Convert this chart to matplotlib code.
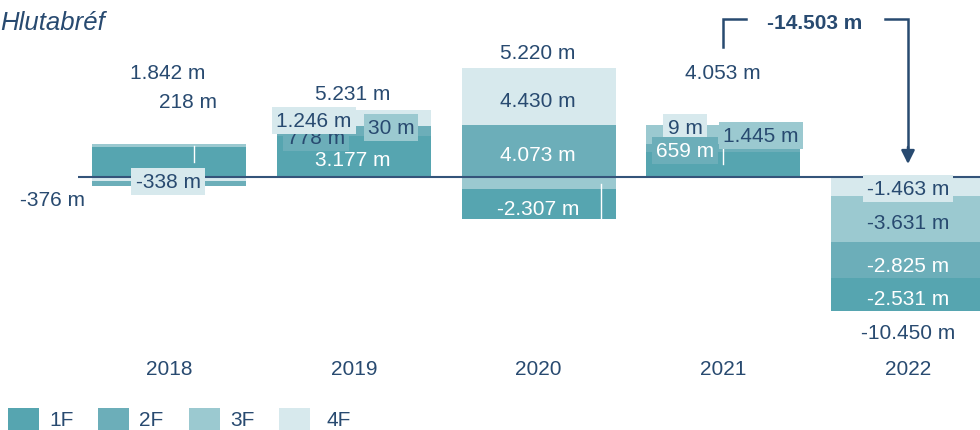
import matplotlib.pyplot as plt
from matplotlib.patches import Rectangle

plt.rcParams['font.family'] = ['Liberation Sans', 'DejaVu Sans']

# data (m. kr.)
years = ['2018', '2019', '2020', '2021', '2022']
quarters = ['1F', '2F', '3F', '4F']
q1 = [2338, 3177, -2307, 1940, -2531]
q2 = [-376, 778, 4073, 659, -2825]
q3 = [218, 30, -976, 1445, -3631]
q4 = [-338, 1246, 4430, 9, -1463]
series = [q1, q2, q3, q4]

colors = ['#56a5b0', '#6caeb9', '#9bc9d0', '#d7e9ed']
dark = '#284a70'
FS = 15

# pixel layout of the reference (980x431)
W, H = 980, 431
X0, STEP = 169, 184.75      # centre of first bar, bar spacing
Y0, UNIT = 178, 1000 / 12.8  # zero line, value per pixel
TY = 1.5                     # text nudge so digits sit centred


def px(x):
    return (x - X0) / STEP


def py(y):
    return (Y0 - y) * UNIT


def fmt(v):
    return f"{v:,}".replace(",", ".") + " m"


fig = plt.figure(figsize=(W / 100, H / 100), dpi=100)
ax = fig.add_axes([78 / W, 0, (W - 78) / W, 1])
ax.set_xlim(px(78), px(W))
ax.set_ylim(py(H), py(0))
ax.axis('off')

# stacked bars: positives build up from 1F, negatives build down from 4F
pos = [0] * len(years)
neg = [0] * len(years)
for qi, vals in enumerate(series):
    for i, v in enumerate(vals):
        if v >= 0:
            ax.bar(i, v, bottom=pos[i], width=154 / STEP, color=colors[qi], zorder=1)
            pos[i] += v
for qi in reversed(range(len(series))):
    for i, v in enumerate(series[qi]):
        if v < 0:
            ax.bar(i, v, bottom=neg[i], width=154 / STEP, color=colors[qi], zorder=1)
            neg[i] += v

ax.axhline(0, color='#34547a', lw=1.5, zorder=2)

# label connectors (white ticks inside bars)
for x, y1, y2 in [(194, 147, 163), (601, 185, 220), (723, 150, 165)]:
    ax.plot([px(x), px(x)], [py(y1), py(y2)], color='white', lw=1, zorder=2)

# quarter labels: (year, quarter, x px, y px, boxed, white text)
placements = [
    (0, 1, 52, 199, False, False),
    (0, 2, 188, 101, False, False),
    (0, 3, 168, 181, True, False),
    (1, 0, 353, 159, False, True),
    (1, 1, 316, 137, True, False),
    (1, 3, 314, 120, True, False),
    (1, 2, 391, 127, True, False),
    (2, 0, 538, 208, False, True),
    (2, 1, 538, 154, False, True),
    (2, 3, 538, 100, False, False),
    (3, 3, 685, 127, True, False),
    (3, 1, 685, 150, True, True),
    (3, 2, 761, 135, True, False),
    (4, 0, 908, 298, False, True),
    (4, 1, 908, 265, False, True),
    (4, 2, 908, 222, False, False),
    (4, 3, 908, 188, True, False),
]
for z, (i, qi, x, y, boxed, white) in enumerate(placements):
    bbox = None
    if boxed:
        bbox = dict(boxstyle='square,pad=0.2', fc=colors[qi], ec='none')
    ax.text(px(x), py(y + TY), fmt(series[qi][i]), ha='center', va='center',
            fontsize=FS, color='white' if white else dark, bbox=bbox, zorder=3 + z)

# totals
totals = [sum(s[i] for s in series) for i in range(len(years))]
total_y = [72, 93, 52, 72, 332]
total_x = [168, 353, 538, 723, 908]
for i, t in enumerate(totals):
    ax.text(px(total_x[i]), py(total_y[i] + TY), fmt(t), ha='center', va='center',
            fontsize=FS, color=dark)

# year labels
for i, yr in enumerate(years):
    ax.text(i, py(368 + TY), yr, ha='center', va='center', fontsize=FS, color=dark)

# change 2021 -> 2022
change = totals[4] - totals[3]
ax.plot([3, 3, px(746)], [py(48), py(20), py(20)], color=dark, lw=1.8,
        solid_joinstyle='miter', clip_on=False)
ax.plot([px(885), 4, 4], [py(20), py(20), py(150)], color=dark, lw=1.8,
        solid_joinstyle='miter', clip_on=False)
ax.annotate('', xy=(4, py(165)), xytext=(4, py(148)),
            arrowprops=dict(arrowstyle='-|>,head_length=0.8,head_width=0.4',
                            color=dark, lw=1.8, shrinkA=0, shrinkB=0))
ax.text(px(815), py(22 + TY), fmt(change), ha='center', va='center',
        fontsize=FS, fontweight='bold', color=dark)

# title
fig.text(0, 1 - 22.5 / H, 'Hlutabréf', ha='left', va='center', fontsize=18.5,
         style='italic', color=dark)

# legend
for k, q in enumerate(quarters):
    lx = [8, 98, 189, 279][k]
    tx = [49, 139, 230, 326][k]
    fig.patches.append(Rectangle((lx / W, 0), 31 / W, 22 / H, transform=fig.transFigure,
                                 fc=colors[k], ec='none'))
    fig.text(tx / W, 1 - 421 / H, q, ha='left', va='center', fontsize=FS, color=dark)

fig.savefig('out.png', dpi=100)
